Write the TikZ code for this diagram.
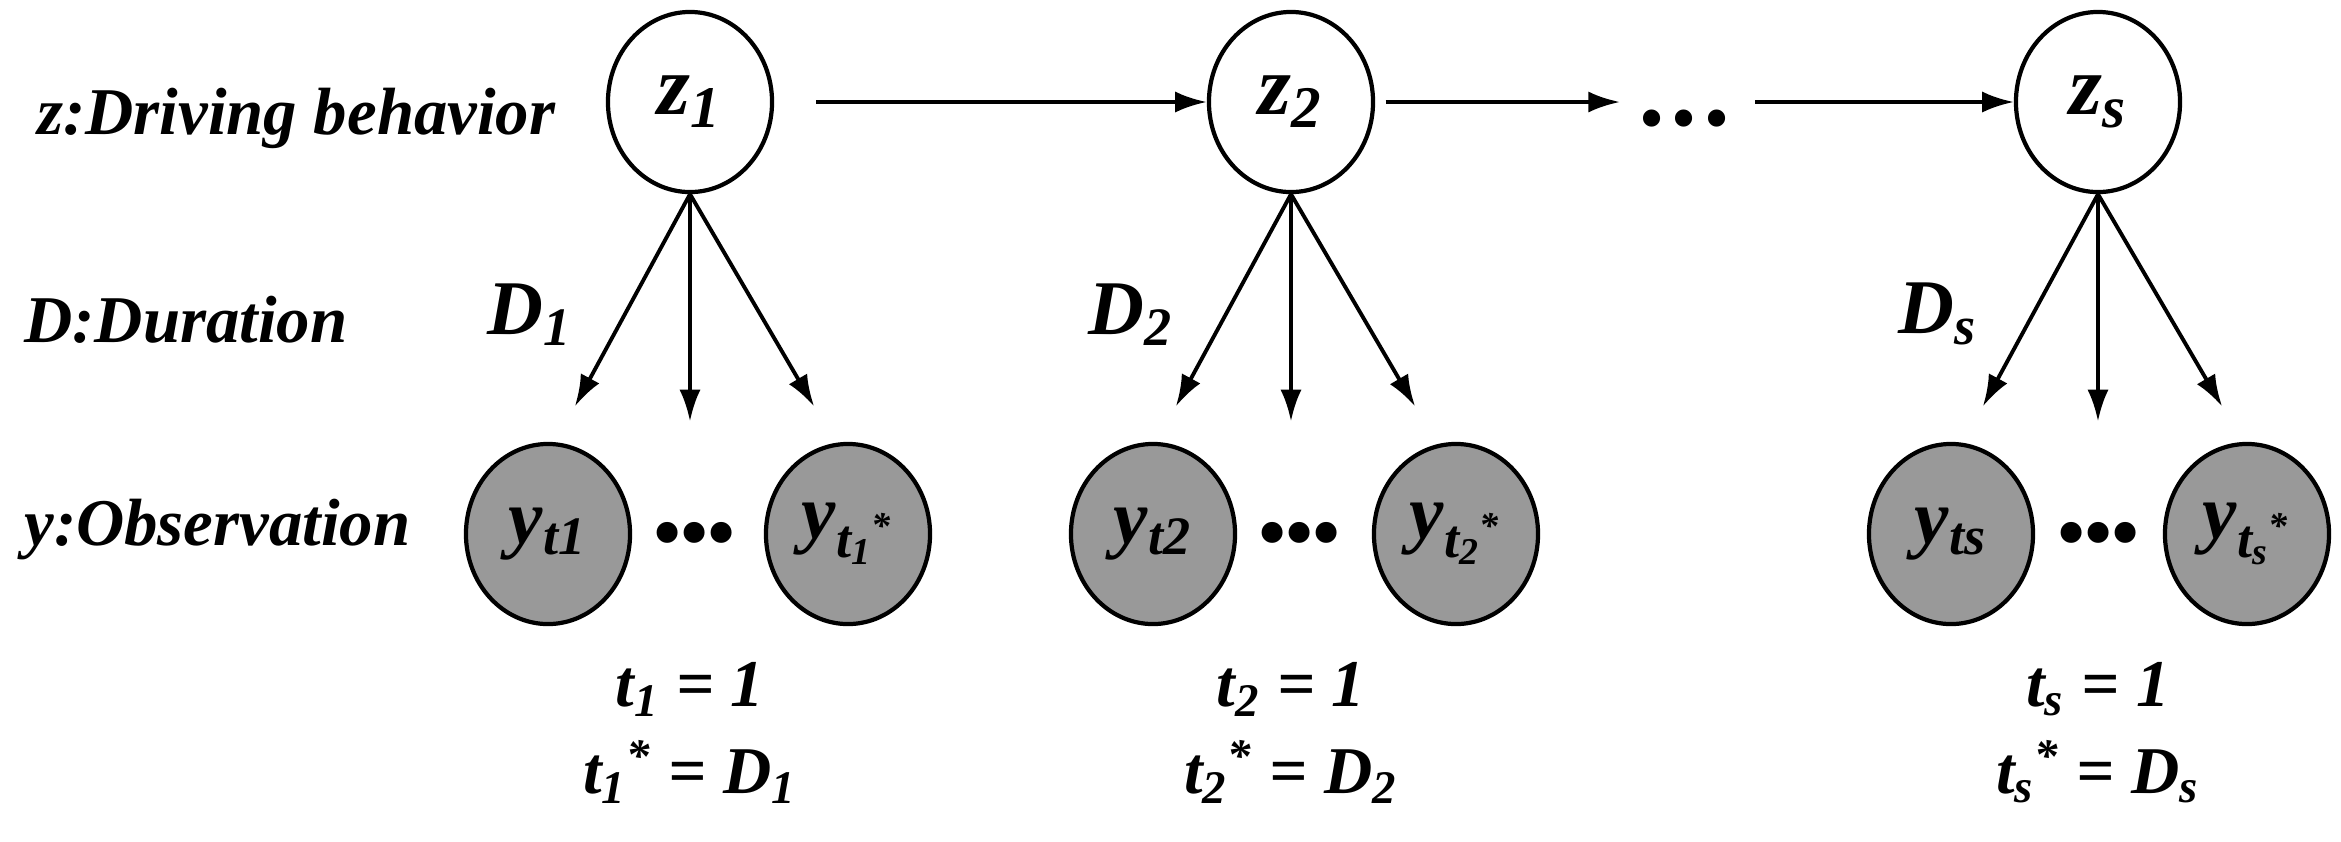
\documentclass[tikz,border=0pt]{standalone}
\usepackage{fontspec}
\setmainfont{Liberation Serif}
\usetikzlibrary{arrows.meta,shapes.geometric}
\tikzstyle{every state} = [draw, ellipse, line width=1.2pt, minimum width=1.64cm, minimum height=1.80cm, inner sep=0pt]
\tikzstyle{hidden} = [every state, fill=white]
\tikzstyle{observed} = [every state, fill=black!40]
\tikzstyle{link} = [-{Latex[length=9pt,width=6pt]}, line width=1.1pt]
\newcommand{\lbl}{\fontsize{19}{22}\selectfont\bfseries\itshape}
\newcommand{\lsub}[1]{\textsubscript{#1}}

\begin{document}
\begin{tikzpicture}[x=0.01cm, y=-0.01cm, font=\lbl]
    \useasboundingbox (0,0) rectangle (2341,841);
    % hidden chain
    \node[hidden] (z1) at (690,102) {\fontsize{24}{26}\selectfont z\lsub{1}};
    \node[hidden] (z2) at (1291,102) {\fontsize{24}{26}\selectfont z\lsub{2}};
    \node[hidden] (zs) at (2098,102) {\fontsize{24}{26}\selectfont z\lsub{s}};
    \node (zdots) at (1684,125) {\fontsize{18}{20}\selectfont\textbullet\,\textbullet\,\textbullet};
    \coordinate (c1) at (1620,102);
    \coordinate (c2) at (1755,102);
    \draw[link] ([xshift=12pt]z1.east) -- (z2.west);
    \draw[link] ([xshift=3pt]z2.east) -- (c1);
    \draw[link] (c2) -- (zs.west);

    % observations
    \node[observed] (y1a) at (548,534) {\fontsize{22}{24}\selectfont y\lsub{t1}};
    \node[observed] (y1b) at (848,534) {\fontsize{22}{24}\selectfont y\lsub{t\lsub{1}\textsuperscript{*}}};
    \node[observed] (y2a) at (1153,534) {\fontsize{22}{24}\selectfont y\lsub{t2}};
    \node[observed] (y2b) at (1456,534) {\fontsize{22}{24}\selectfont y\lsub{t\lsub{2}\textsuperscript{*}}};
    \node[observed] (ysa) at (1951,534) {\fontsize{22}{24}\selectfont y\lsub{ts}};
    \node[observed] (ysb) at (2247,534) {\fontsize{22}{24}\selectfont y\lsub{t\lsub{s}\textsuperscript{*}}};
    \foreach \n/\x in {d1/694, d2/1299, ds/2098}
        \node (\n) at (\x,540) {\fontsize{22}{24}\selectfont\textbullet\textbullet\textbullet};

    % durations
    \foreach \z/\i in {z1/1, z2/2, zs/s} {
        \coordinate (\z l) at ([xshift=-1.15cm, yshift=-2.12cm]\z.south);
        \coordinate (\z m) at ([yshift=-2.27cm]\z.south);
        \coordinate (\z r) at ([xshift=1.24cm, yshift=-2.12cm]\z.south);
        \draw[link] (\z.south) -- (\z l);
        \draw[link] (\z.south) -- (\z m);
        \draw[link] (\z.south) -- (\z r);
        \node (D\i) at ([xshift=-1.6cm, yshift=-1.2cm]\z.south) {\fontsize{22}{24}\selectfont D\lsub{\i}};
        \node (t\i) at ([yshift=-4.95cm]\z.south) {t\lsub{\i} = 1};
        \node (ts\i) at ([yshift=-5.77cm]\z.south) {t\lsub{\i}\textsuperscript{*} = D\lsub{\i}};
    }

    % row labels
    \node[anchor=west] (lz) at (25,118) {z:Driving behavior};
    \node[anchor=west] (lD) at (12,320) {D:Duration};
    \node[anchor=west] (ly) at (12,530) {y:Observation};
\end{tikzpicture}
\end{document}
